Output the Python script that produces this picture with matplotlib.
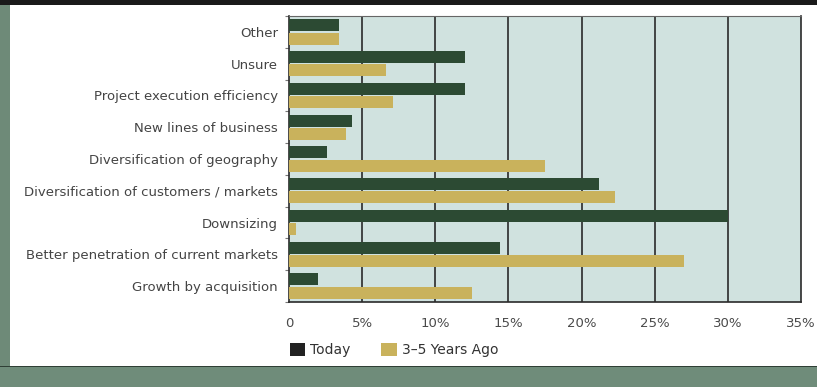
import matplotlib
matplotlib.use("Agg")
import matplotlib.pyplot as plt
from matplotlib.patches import Rectangle, Patch
import numpy as np

categories = ["Other", "Unsure", "Project execution efficiency", "New lines of business",
              "Diversification of geography", "Diversification of customers / markets",
              "Downsizing", "Better penetration of current markets", "Growth by acquisition"]
today = [3.4, 12.0, 12.0, 4.3, 2.6, 21.2, 30.0, 14.4, 2.0]
years_ago = [3.4, 6.6, 7.1, 3.9, 17.5, 22.3, 0.5, 27.0, 12.5]
xticks = [0, 5, 10, 15, 20, 25, 30, 35]
xtick_labels = ["0", "5%", "10%", "15%", "20%", "25%", "30%", "35%"]
series_names = ["Today", "3\u20135 Years Ago"]

W, H = 817, 387
fig = plt.figure(figsize=(W / 100, H / 100), dpi=100)
fig.patch.set_facecolor("white")

# frame decorations
fig.add_artist(Rectangle((0, 0), 1, 1, transform=fig.transFigure, facecolor="white", zorder=-10))
fig.add_artist(Rectangle((0, 0), 10 / W, 1, transform=fig.transFigure, facecolor="#6e8a78", zorder=-5, lw=0))
fig.add_artist(Rectangle((0, 0), 1, 20 / H, transform=fig.transFigure, facecolor="#6f8c7a", zorder=-5, lw=0))
fig.add_artist(Rectangle((0, 1 - 5 / H), 1, 5 / H, transform=fig.transFigure, facecolor="#1a1a1a", zorder=-5, lw=0))
fig.add_artist(Rectangle((0, 20 / H), 1, 1.5 / H, transform=fig.transFigure, facecolor="#2f3f35", zorder=-4, lw=0))

ax = fig.add_axes([289 / W, 1 - 302 / H, (801 - 289) / W, (302 - 16) / H])
ax.set_facecolor("#d0e2df")

c_today = "#2c4a33"
c_past = "#c9b25c"
y = np.arange(len(categories))
h = 0.38
ax.barh(y - 0.21, today, height=h, color=c_today, zorder=3)
ax.barh(y + 0.21, years_ago, height=h, color=c_past, zorder=3)

ax.set_xlim(0, 35)
ax.set_ylim(len(categories) - 0.5, -0.5)
ax.set_xticks(xticks)
ax.set_xticklabels(xtick_labels, color="#4a4a4a", fontsize=9.5)
ax.tick_params(axis="x", length=0, pad=11)
ax.set_yticks(y)
ax.set_yticklabels(categories, color="#444444", fontsize=9.5)
ax.tick_params(axis="y", which="major", length=0, pad=8)
ax.set_yticks(np.arange(len(categories) + 1) - 0.5, minor=True)
ax.tick_params(axis="y", which="minor", length=3, color="#777777", width=0.8)

for xv in xticks[1:-1]:
    ax.axvline(xv, color="#2a2a2a", lw=1.2, zorder=2)
for s in ["left", "bottom", "right"]:
    ax.spines[s].set_color("#2a2a2a")
    ax.spines[s].set_linewidth(1.2)
ax.spines["top"].set_color("#666666")

handles = [Patch(facecolor="#222222", label=series_names[0]),
           Patch(facecolor=c_past, label=series_names[1])]
fig.legend(handles=handles, loc="center left", bbox_to_anchor=(277 / W, 1 - 350 / H),
           ncol=2, frameon=False, fontsize=10, handlelength=1.1, handleheight=1.1,
           handletextpad=0.4, columnspacing=2.2, labelcolor="#333333")

fig.savefig("out.png", dpi=100)
